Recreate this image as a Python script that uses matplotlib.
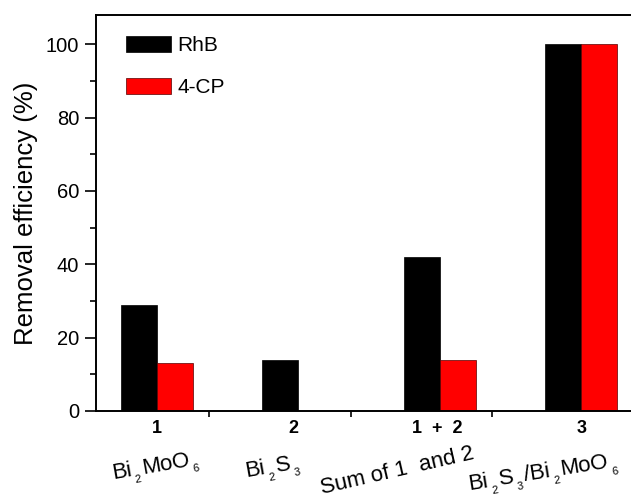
import numpy as np
import matplotlib
matplotlib.use('Agg')
import matplotlib.pyplot as plt
from matplotlib.ticker import MultipleLocator, FixedLocator, NullFormatter

plt.rcParams['font.family'] = ['Liberation Sans', 'DejaVu Sans']

# removal efficiency (%) per sample
groups = ['1', '2', '1  +  2', '3']
# sample names as (text, is_subscript) pieces
samples = [
    [('Bi', 0), ('2', 1), ('MoO', 0), ('6', 1)],
    [('Bi', 0), ('2', 1), ('S', 0), ('3', 1)],
    [('Sum of 1  and 2', 0)],
    [('Bi', 0), ('2', 1), ('S', 0), ('3', 1), ('/Bi', 0), ('2', 1),
     ('MoO', 0), ('6', 1)],
]
rhb = [29, 14, 42, 100]
cp4 = [13, 0, 14, 100]

x = np.arange(len(groups))
w = 0.254

fig = plt.figure(figsize=(6.31, 5.0), dpi=100)
ax = fig.add_axes([0.1521, 0.178, 0.8479, 0.792])

ax.bar(x, rhb, width=-w, align='edge', color='black', edgecolor='black',
       linewidth=0.5, label='RhB')
ax.bar(x, cp4, width=w, align='edge', color='#ff0000', edgecolor='#550000',
       linewidth=0.5, label='4-CP')

ax.set_xlim(-0.429, 3.352)
ax.set_ylim(0, 108)

ax.spines['right'].set_visible(False)
for s in ['left', 'bottom', 'top']:
    ax.spines[s].set_linewidth(1.4)

ax.yaxis.set_major_locator(MultipleLocator(20))
ax.yaxis.set_minor_locator(MultipleLocator(10))
ax.tick_params(axis='y', which='major', direction='out', length=8, width=1.2,
               labelsize=14.5, pad=4)
ax.tick_params(axis='y', which='minor', direction='out', length=4.5, width=1.2)
ax.xaxis.set_major_locator(FixedLocator(x[:-1] + 0.37))
ax.xaxis.set_major_formatter(NullFormatter())
ax.tick_params(axis='x', which='major', direction='out', length=4, width=1.2)

ax.set_ylabel('Removal efficiency (%)', fontsize=18.5, labelpad=6)

renderer = fig.canvas.get_renderer()


def width_pt(s, size):
    t = fig.text(0, 0, s, fontsize=size)
    wpx = t.get_window_extent(renderer).width
    t.remove()
    return wpx * 72 / fig.dpi


# group numbers and sample names under the axis
tr = ax.get_xaxis_transform()
num_x = [0.0, 0.963, 1.98, 3.0]
name_x = [0.0, 0.83, 1.71, 2.74]
name_y = [-0.152, -0.154, -0.166, -0.169]
name_rot = [10, 10, 13, 9]
big, small, gap, drop = 16, 8, 1.6, -5.5

for i in range(len(groups)):
    ax.text(num_x[i], -0.045, groups[i], transform=tr, ha='center',
            va='center', fontsize=13, fontweight='bold')

    parts = []
    for s, is_sub in samples[i]:
        if is_sub:
            parts.append((s, small, width_pt(s, small) + 2 * gap, gap, drop))
        else:
            parts.append((s, big, width_pt(s, big), 0, 0))
    total = sum(p[2] for p in parts)
    th = np.deg2rad(name_rot[i])
    u = -total / 2
    for s, size, wd, pre, v in parts:
        uu = u + pre
        ox = uu * np.cos(th) - v * np.sin(th)
        oy = uu * np.sin(th) + v * np.cos(th)
        ax.annotate(s, xy=(name_x[i], name_y[i]), xycoords=tr,
                    xytext=(ox, oy), textcoords='offset points',
                    fontsize=size, rotation=name_rot[i],
                    rotation_mode='anchor', ha='left', va='baseline',
                    annotation_clip=False)
        u += wd

ax.legend(loc='upper left', bbox_to_anchor=(0.022, 0.995), frameon=False,
          fontsize=15, handlelength=2.15, handleheight=0.8,
          labelspacing=1.1, handletextpad=0.3)

fig.savefig('out.png', dpi=100)
